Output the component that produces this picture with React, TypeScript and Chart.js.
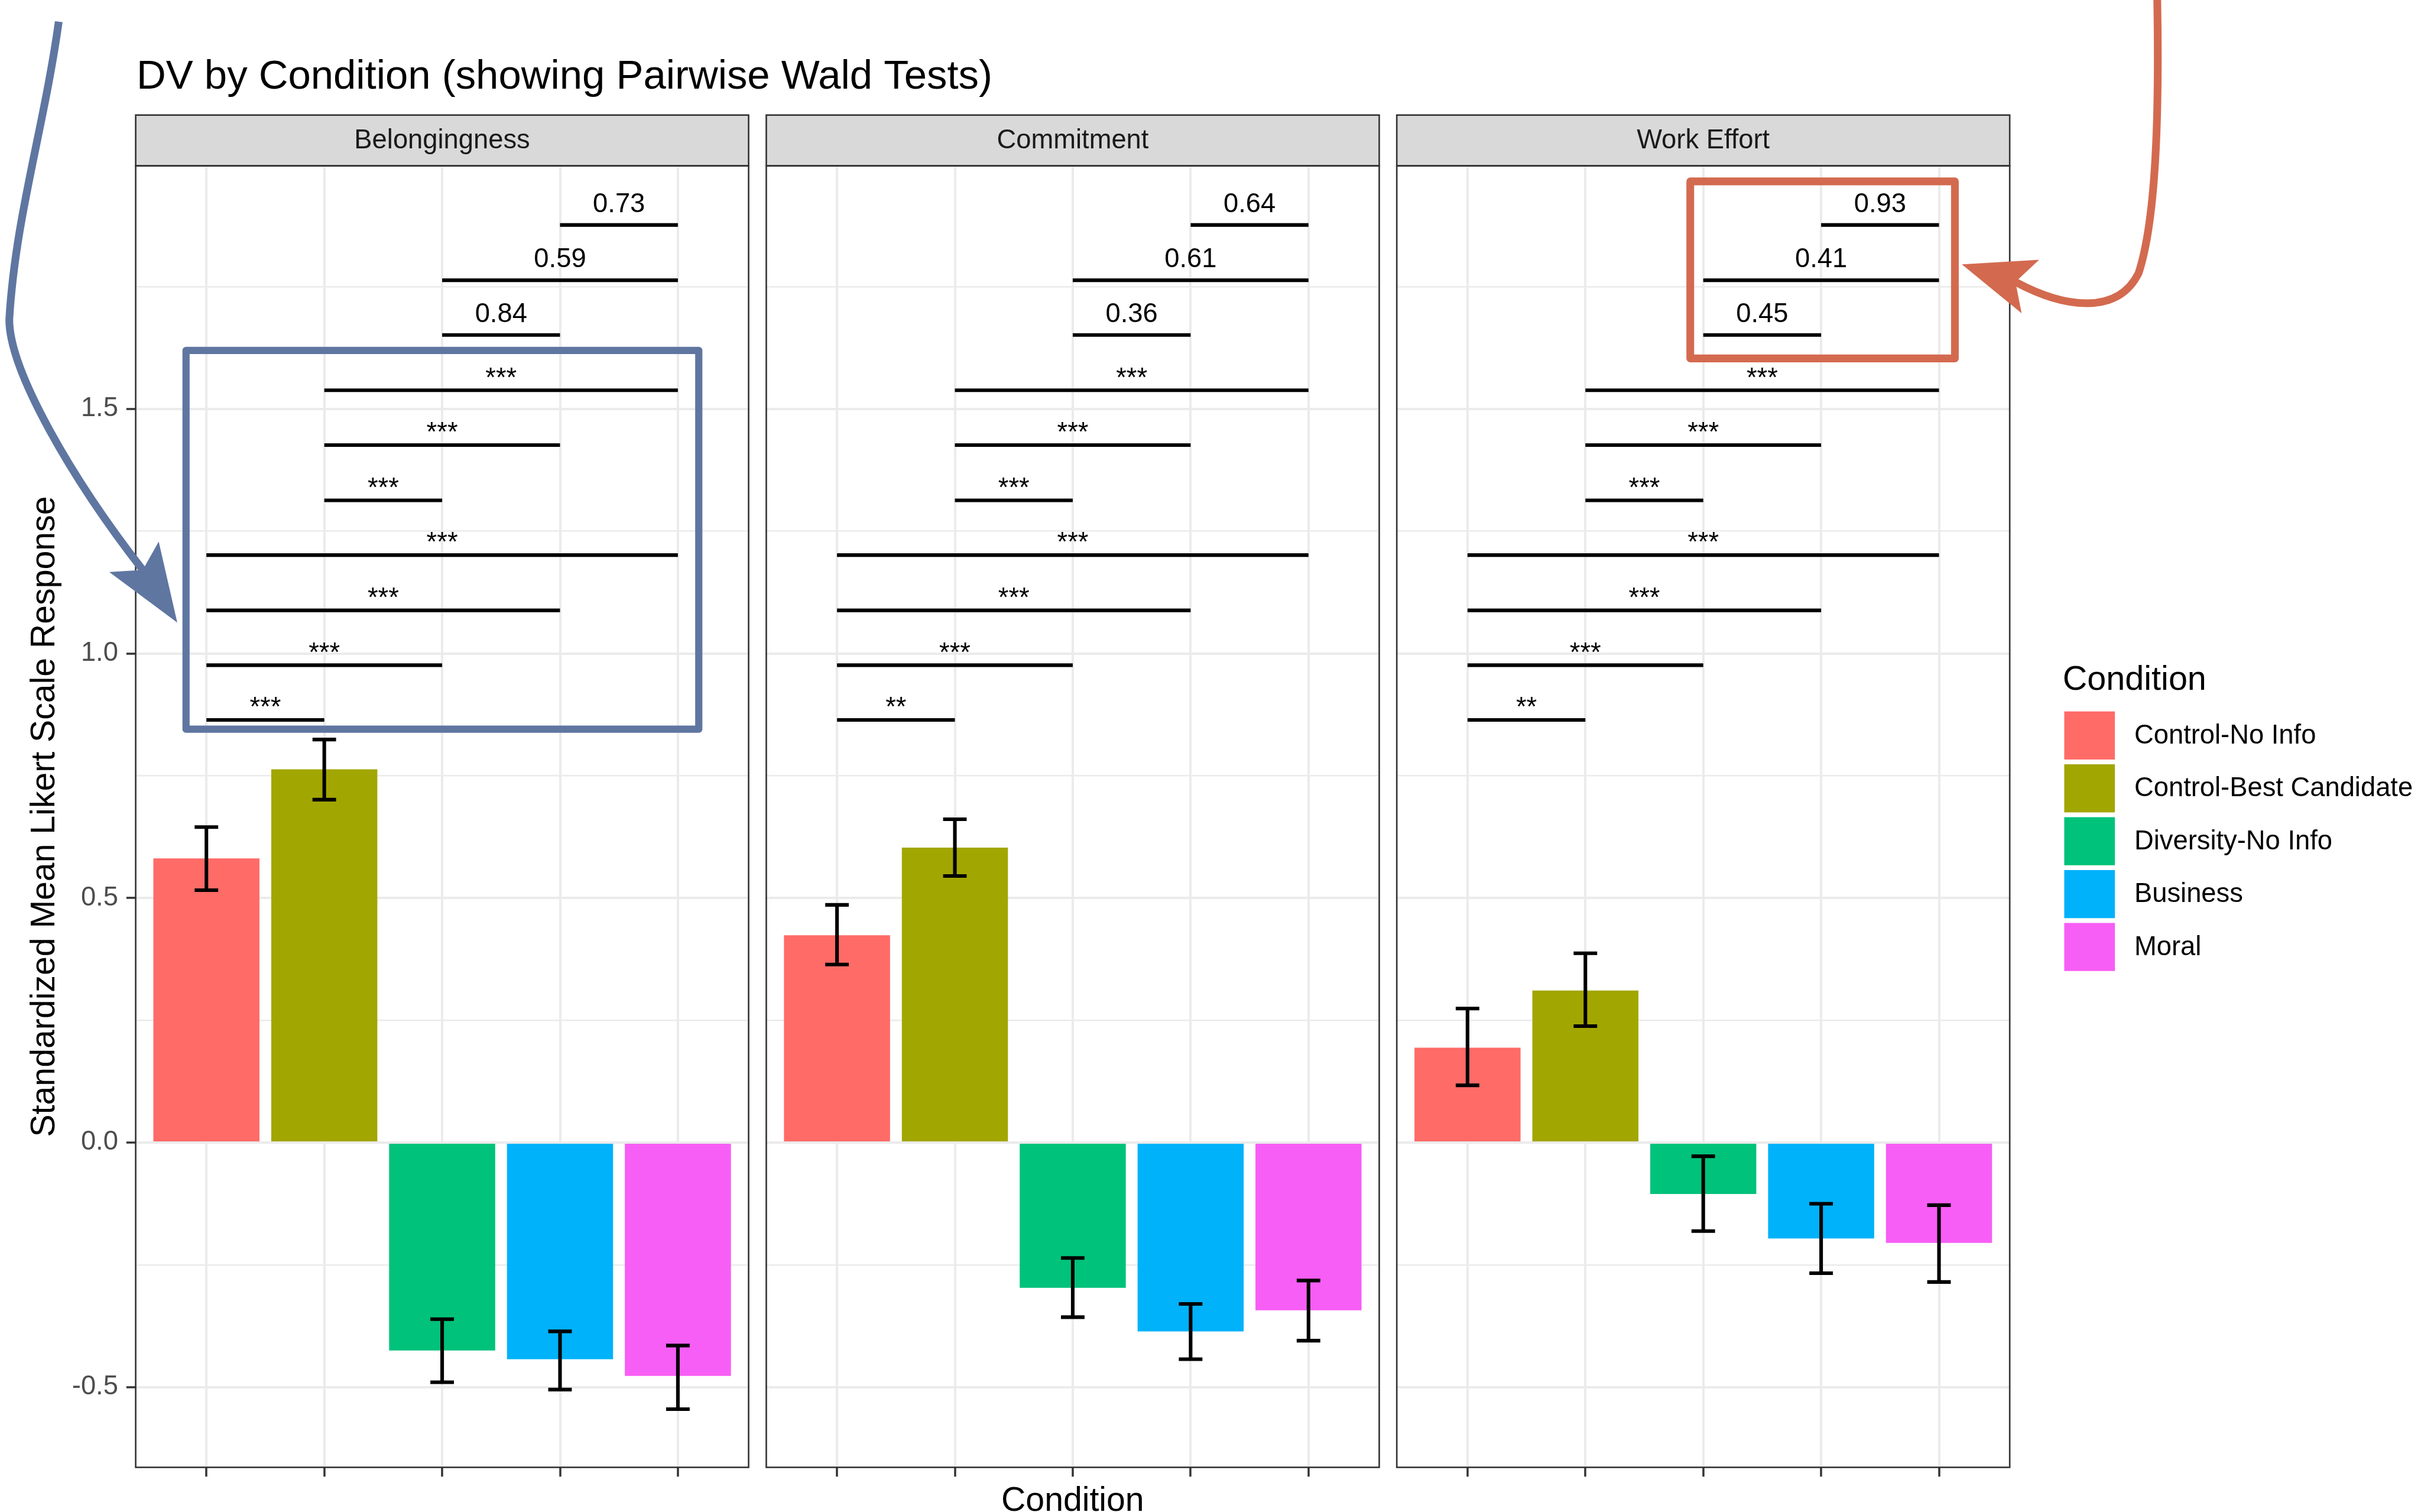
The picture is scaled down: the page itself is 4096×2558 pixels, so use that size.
import React, { useEffect, useRef } from "react";
import { Chart, registerables } from "chart.js";

Chart.register(...registerables);

// ---------------- data ----------------
const facets = ["Belongingness", "Commitment", "Work Effort"];
const conditions = [
  "Control-No Info",
  "Control-Best Candidate",
  "Diversity-No Info",
  "Business",
  "Moral",
];
const conditionColors = ["#FF6B67", "#A2A600", "#00C27B", "#00B2FA", "#F75EF5"];

const belongingnessMean = [0.581, 0.763, -0.425, -0.443, -0.477];
const belongingnessLow = [0.516, 0.701, -0.49, -0.505, -0.545];
const belongingnessHigh = [0.645, 0.824, -0.361, -0.386, -0.415];

const commitmentMean = [0.424, 0.603, -0.297, -0.386, -0.343];
const commitmentLow = [0.364, 0.545, -0.357, -0.443, -0.405];
const commitmentHigh = [0.486, 0.661, -0.236, -0.33, -0.282];

const workEffortMean = [0.194, 0.311, -0.105, -0.196, -0.205];
const workEffortLow = [0.117, 0.238, -0.181, -0.267, -0.285];
const workEffortHigh = [0.274, 0.387, -0.028, -0.125, -0.128];

const comparisonFrom = [0, 0, 0, 0, 1, 1, 1, 2, 2, 3];
const comparisonTo = [1, 2, 3, 4, 2, 3, 4, 3, 4, 4];
const comparisonY = [0.864, 0.976, 1.088, 1.201, 1.313, 1.426, 1.538, 1.651, 1.763, 1.876];
const belongingnessLabels = ["***", "***", "***", "***", "***", "***", "***", "0.84", "0.59", "0.73"];
const commitmentLabels = ["**", "***", "***", "***", "***", "***", "***", "0.36", "0.61", "0.64"];
const workEffortLabels = ["**", "***", "***", "***", "***", "***", "***", "0.45", "0.41", "0.93"];

const yMajorTicks = [-0.5, 0, 0.5, 1, 1.5];
const yMinorTicks = [-0.25, 0.25, 0.75, 1.25, 1.75];

const titleText = "DV by Condition (showing Pairwise Wald Tests)";
const yTitleText = "Standardized Mean Likert Scale Response";
const xTitleText = "Condition";
const legendTitleText = "Condition";

const facetMeans = [belongingnessMean, commitmentMean, workEffortMean];
const facetLows = [belongingnessLow, commitmentLow, workEffortLow];
const facetHighs = [belongingnessHigh, commitmentHigh, workEffortHigh];
const facetLabels = [belongingnessLabels, commitmentLabels, workEffortLabels];

// ---------------- layout ----------------
const W = 4096;
const H = 2558;
const S = 4096 / 4698;
const FONT = "'Liberation Sans', Arial, Helvetica, sans-serif";

const PANEL_LEFTS = [263.3, 1487.0, 2710.5].map((v) => v * S);
const PANEL_W = 1189.4 * S;
const PANEL_TOP = 321.7 * S;
const PANEL_BOTTOM = 2847.3 * S;
const STRIP_TOP = 223.3 * S;
const X_AXIS_H = 20;
const Y_MIN = -0.664;
const Y_MAX = 1.997;

const SMALL = 52 * S;
const GRID = "#EBEBEB";
const DARK = "#333333";

const isMajor = (v: number) => yMajorTicks.some((m) => Math.abs(m - v) < 1e-9);

function facetPlugin(i: number) {
  return {
    id: "facet" + i,
    afterDatasetsDraw(chart: any) {
      const { ctx } = chart;
      const x = chart.scales.x;
      const y = chart.scales.y;
      const lo = facetLows[i];
      const hi = facetHighs[i];
      ctx.save();
      // error bars
      ctx.strokeStyle = "#000";
      ctx.lineWidth = 7 * S;
      ctx.lineCap = "butt";
      for (let k = 0; k < conditions.length; k++) {
        const px = x.getPixelForValue(k);
        const half = x.getPixelForValue(k + 0.1) - px;
        const yh = y.getPixelForValue(hi[k]);
        const yl = y.getPixelForValue(lo[k]);
        ctx.beginPath();
        ctx.moveTo(px, yh);
        ctx.lineTo(px, yl);
        ctx.moveTo(px - half, yh);
        ctx.lineTo(px + half, yh);
        ctx.moveTo(px - half, yl);
        ctx.lineTo(px + half, yl);
        ctx.stroke();
      }
      // significance brackets
      const labels = facetLabels[i];
      ctx.font = `${SMALL}px ${FONT}`;
      ctx.fillStyle = "#000";
      ctx.textAlign = "center";
      ctx.textBaseline = "alphabetic";
      for (let c = 0; c < comparisonY.length; c++) {
        const x1 = x.getPixelForValue(comparisonFrom[c]);
        const x2 = x.getPixelForValue(comparisonTo[c]);
        const py = y.getPixelForValue(comparisonY[c]);
        ctx.lineWidth = 7 * S;
        ctx.beginPath();
        ctx.moveTo(x1, py);
        ctx.lineTo(x2, py);
        ctx.stroke();
        const m = ctx.measureText(labels[c]);
        const base = py - 25 * S - (m.actualBoundingBoxDescent || 0);
        ctx.fillText(labels[c], (x1 + x2) / 2, base);
      }
      ctx.restore();
    },
    afterDraw(chart: any) {
      const { ctx, chartArea } = chart;
      ctx.save();
      // strip
      ctx.fillStyle = "#D9D9D9";
      ctx.fillRect(chartArea.left, STRIP_TOP, chartArea.right - chartArea.left, chartArea.top - STRIP_TOP);
      ctx.strokeStyle = DARK;
      ctx.lineWidth = 3 * S;
      ctx.strokeRect(chartArea.left, STRIP_TOP, chartArea.right - chartArea.left, chartArea.top - STRIP_TOP);
      ctx.fillStyle = "#1A1A1A";
      ctx.font = `${SMALL}px ${FONT}`;
      ctx.textAlign = "center";
      ctx.textBaseline = "middle";
      ctx.fillText(facets[i], (chartArea.left + chartArea.right) / 2, (STRIP_TOP + chartArea.top) / 2 + 1);
      // panel border
      ctx.strokeRect(chartArea.left, chartArea.top, chartArea.right - chartArea.left, chartArea.bottom - chartArea.top);
      ctx.restore();
    },
  };
}

const figureTextPlugin = {
  id: "figureText",
  afterDraw(chart: any) {
    const { ctx } = chart;
    ctx.save();
    ctx.fillStyle = "#000";
    // title
    ctx.font = `${79 * S}px ${FONT}`;
    ctx.textAlign = "left";
    ctx.textBaseline = "alphabetic";
    ctx.fillText(titleText, 265 * S, 171.7 * S);
    // y title
    ctx.font = `${65.6 * S}px ${FONT}`;
    ctx.save();
    ctx.translate(106 * S, (PANEL_TOP + PANEL_BOTTOM) / 2);
    ctx.rotate(-Math.PI / 2);
    ctx.textAlign = "center";
    ctx.fillText(yTitleText, 0, 0);
    ctx.restore();
    // x title
    ctx.textAlign = "center";
    const xc = (PANEL_LEFTS[0] + PANEL_LEFTS[2] + PANEL_W) / 2;
    ctx.fillText(xTitleText, xc, 2931.3 * S);
    // legend
    ctx.textAlign = "left";
    ctx.font = `${66 * S}px ${FONT}`;
    ctx.fillText(legendTitleText, 4002.7 * S, 1338.3 * S);
    ctx.font = `${SMALL}px ${FONT}`;
    ctx.textBaseline = "middle";
    for (let k = 0; k < conditions.length; k++) {
      const top = (1380.5 + k * 102.6) * S;
      const h = 93.3 * S;
      ctx.fillStyle = conditionColors[k];
      ctx.fillRect(4005.7 * S, top, 98.3 * S, h);
      ctx.fillStyle = "#000";
      ctx.fillText(conditions[k], 4141.7 * S, top + h / 2 + 1);
    }
    ctx.restore();
  },
};

function arrowHead(ctx: CanvasRenderingContext2D, pts: number[][]) {
  ctx.beginPath();
  ctx.moveTo(pts[0][0] * S, pts[0][1] * S);
  for (let k = 1; k < pts.length; k++) ctx.lineTo(pts[k][0] * S, pts[k][1] * S);
  ctx.closePath();
  ctx.fill();
}

const annotationPlugin = {
  id: "annotations",
  afterDraw(chart: any) {
    const ctx: CanvasRenderingContext2D = chart.ctx;
    ctx.save();
    ctx.lineJoin = "round";
    ctx.lineCap = "butt";
    // blue box + arrow
    const blue = "#5F76A1";
    ctx.strokeStyle = blue;
    ctx.fillStyle = blue;
    ctx.lineWidth = 14 * S;
    ctx.strokeRect(361 * S, 680 * S, (1356 - 361) * S, (1415 - 680) * S);
    ctx.lineWidth = 15 * S;
    ctx.beginPath();
    ctx.moveTo(114 * S, 42 * S);
    ctx.bezierCurveTo(85 * S, 250 * S, 30 * S, 420 * S, 18 * S, 620 * S);
    ctx.bezierCurveTo(18 * S, 720 * S, 140 * S, 930 * S, 277 * S, 1106 * S);
    ctx.stroke();
    arrowHead(ctx, [
      [344, 1208],
      [212, 1110],
      [277, 1106],
      [308, 1051],
    ]);
    // orange box + arrow
    const orange = "#D36A4F";
    ctx.strokeStyle = orange;
    ctx.fillStyle = orange;
    ctx.lineWidth = 15 * S;
    ctx.strokeRect(3280 * S, 352 * S, (3793.5 - 3280) * S, (695.5 - 352) * S);
    ctx.beginPath();
    ctx.moveTo(4186 * S, -10 * S);
    ctx.bezierCurveTo(4190 * S, 200 * S, 4186 * S, 420 * S, 4150 * S, 530 * S);
    ctx.bezierCurveTo(4110 * S, 610 * S, 4010 * S, 600 * S, 3911 * S, 547 * S);
    ctx.stroke();
    arrowHead(ctx, [
      [3807, 513],
      [3957, 504],
      [3911, 547],
      [3923, 608],
    ]);
    ctx.restore();
  },
};

function makeConfig(i: number): any {
  const left = PANEL_LEFTS[i];
  const yTicks = [...yMajorTicks, ...yMinorTicks].sort((a, b) => a - b);
  const plugins: any[] = [facetPlugin(i)];
  if (i === 0) plugins.push(figureTextPlugin);
  if (i === 2) plugins.push(annotationPlugin);
  return {
    type: "bar",
    data: {
      datasets: [
        {
          data: facetMeans[i].map((v, k) => ({ x: k, y: v })),
          backgroundColor: conditionColors,
          borderWidth: 0,
          categoryPercentage: 1,
          barPercentage: 0.9,
        },
      ],
    },
    options: {
      animation: false,
      responsive: false,
      devicePixelRatio: 1,
      events: [],
      layout: {
        padding: {
          left: i === 0 ? 0 : left,
          right: W - (left + PANEL_W),
          top: PANEL_TOP,
          bottom: H - PANEL_BOTTOM - X_AXIS_H,
        },
      },
      plugins: {
        legend: { display: false },
        tooltip: { enabled: false },
        title: { display: false },
      },
      scales: {
        x: {
          type: "linear",
          min: -0.6,
          max: 4.6,
          bounds: "data",
          offset: false,
          afterBuildTicks: (s: any) => {
            s.ticks = conditions.map((_, k) => ({ value: k }));
          },
          afterFit: (s: any) => {
            s.height = X_AXIS_H;
          },
          ticks: { display: false, autoSkip: false },
          border: { display: false },
          grid: {
            offset: false,
            color: GRID,
            lineWidth: 4.5 * S,
            drawTicks: true,
            tickLength: 18 * S,
            tickColor: DARK,
            tickWidth: 4 * S,
          },
        },
        y: {
          type: "linear",
          min: Y_MIN,
          max: Y_MAX,
          bounds: "data",
          afterBuildTicks: (s: any) => {
            s.ticks = yTicks.map((v) => ({ value: v }));
          },
          afterFit: (s: any) => {
            s.width = i === 0 ? PANEL_LEFTS[0] : 0;
          },
          ticks: {
            display: i === 0,
            autoSkip: false,
            padding: 16 * S,
            color: "#4D4D4D",
            font: { family: FONT, size: SMALL },
            callback: (v: number) => (isMajor(v) ? v.toFixed(1) : ""),
          },
          border: { display: false },
          grid: {
            color: GRID,
            lineWidth: (c: any) => (c.tick && isMajor(c.tick.value) ? 4.5 * S : 3 * S),
            drawTicks: i === 0,
            tickLength: 18 * S,
            tickColor: (c: any) => (c.tick && isMajor(c.tick.value) ? DARK : "rgba(0,0,0,0)"),
            tickWidth: 4 * S,
          },
        },
      },
    },
    plugins,
  };
}

export default function App() {
  const r0 = useRef<HTMLCanvasElement>(null);
  const r1 = useRef<HTMLCanvasElement>(null);
  const r2 = useRef<HTMLCanvasElement>(null);
  useEffect(() => {
    const refs = [r0, r1, r2];
    const charts = refs.map((r, i) => new Chart(r.current as HTMLCanvasElement, makeConfig(i)));
    return () => charts.forEach((c) => c.destroy());
  }, []);
  const style: React.CSSProperties = { position: "absolute", left: 0, top: 0, width: W, height: H };
  return (
    <div style={{ position: "fixed", left: 0, top: 0, width: W, height: H, background: "#fff", overflow: "hidden" }}>
      <canvas ref={r0} width={W} height={H} style={style} />
      <canvas ref={r1} width={W} height={H} style={style} />
      <canvas ref={r2} width={W} height={H} style={style} />
    </div>
  );
}
